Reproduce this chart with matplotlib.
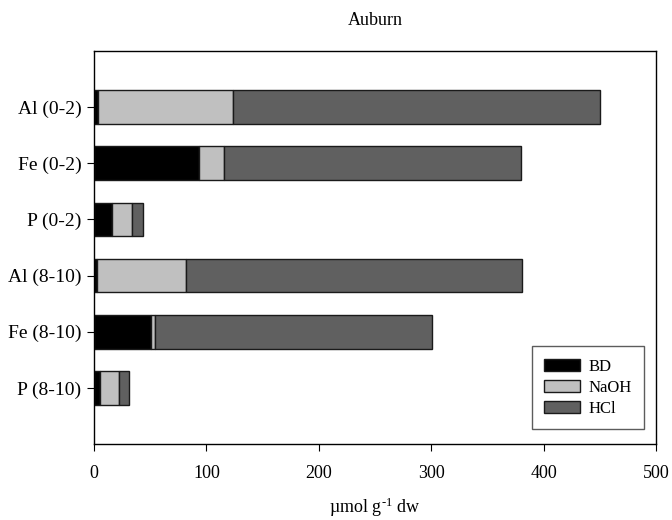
import matplotlib
matplotlib.use("Agg")
import matplotlib.pyplot as plt
import numpy as np

plt.rcParams['font.family'] = ['Liberation Serif', 'DejaVu Serif']
plt.rcParams['mathtext.fontset'] = 'custom'
plt.rcParams['mathtext.rm'] = 'Liberation Serif'
plt.rcParams['mathtext.it'] = 'Liberation Serif:italic'

categories = ["Al (0-2)", "Fe (0-2)", "P (0-2)", "Al (8-10)", "Fe (8-10)", "P (8-10)"]
bd = [4, 93, 16, 3, 51, 5]
naoh = [120, 23, 18, 79, 3, 17]
hcl = [326, 264, 10, 299, 247, 9]
series_names = ["BD", "NaOH", "HCl"]
colors = ["#000000", "#c0c0c0", "#606060"]

fig = plt.figure(figsize=(6.72, 5.2), dpi=100)
ax = fig.add_axes([94/672, 1-444/520, (656-94)/672, (444-51)/520])

y = np.arange(len(categories))
left = np.zeros(len(categories))
for vals, name, c in zip([bd, naoh, hcl], series_names, colors):
    ax.barh(y, vals, left=left, height=0.6, color=c, edgecolor="#1a1a1a",
            linewidth=1.0, label=name)
    left = left + np.array(vals)

ax.set_ylim(len(categories), -1)
ax.set_xlim(0, 500)
ax.set_yticks(y)
ax.set_yticklabels(categories, fontsize=14)
ax.set_xticks([0, 100, 200, 300, 400, 500])
ax.tick_params(axis='x', labelsize=13, direction='out', length=5, pad=10)
ax.tick_params(axis='y', direction='out', length=5, pad=4)
for s in ax.spines.values():
    s.set_linewidth(1.0)

ax.set_xlabel("µmol g$^{\\text{-1}}$ dw", fontsize=13, labelpad=10)
ax.set_title("Auburn", fontsize=13, pad=19)

leg = ax.legend(loc='lower right', bbox_to_anchor=(0.979, 0.038), fontsize=12,
                frameon=True, fancybox=False, edgecolor='#333333',
                handlelength=2.15, handleheight=0.7, handletextpad=0.5,
                borderpad=0.75, labelspacing=0.3, borderaxespad=0)
leg.get_frame().set_linewidth(1.0)

fig.savefig("out.png", dpi=100)
